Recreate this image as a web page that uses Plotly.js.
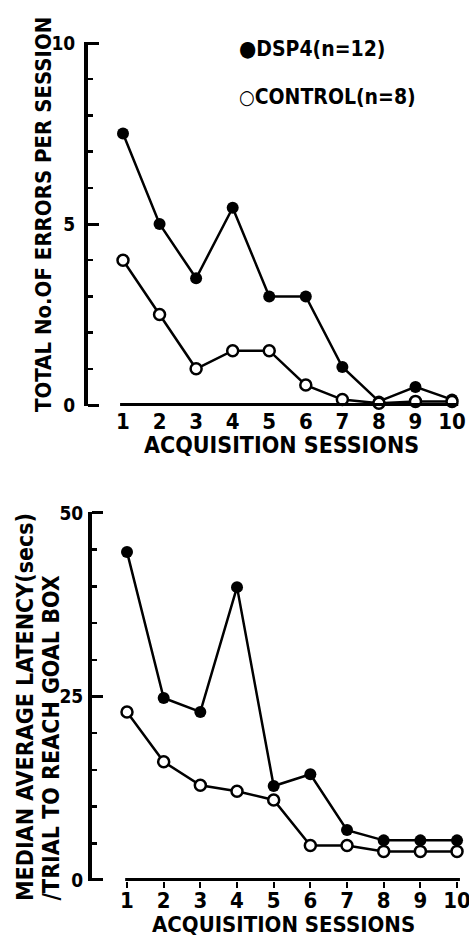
<!DOCTYPE html>
<html>
<head>
<meta charset="utf-8">
<script src="https://cdn.plot.ly/plotly-3.0.1.min.js"></script>
<style>html,body{margin:0;padding:0;background:#fff;}#chart{width:469px;height:939px;}</style>
</head>
<body>
<div id="chart"></div>
<script>
// ---- data ----
const sessions = [1, 2, 3, 4, 5, 6, 7, 8, 9, 10];
const sessionLabels = ['1', '2', '3', '4', '5', '6', '7', '8', '9', '10'];
const dsp4Errors = [7.5, 5.0, 3.5, 5.45, 3.0, 3.0, 1.05, 0.1, 0.5, 0.15];
const controlErrors = [4.0, 2.5, 1.0, 1.5, 1.5, 0.55, 0.15, 0.05, 0.1, 0.1];
const dsp4Latency = [44.7, 24.8, 22.9, 39.9, 12.8, 14.4, 6.8, 5.4, 5.4, 5.4];
const controlLatency = [22.9, 16.1, 12.9, 12.1, 10.9, 4.7, 4.7, 3.9, 3.9, 3.9];
const seriesNames = ['DSP4(n=12)', 'CONTROL(n=8)'];
const xTitle = 'ACQUISITION SESSIONS';
const yTitleTop = 'TOTAL No.OF ERRORS PER SESSION';
const yTitleBottom1 = 'MEDIAN AVERAGE LATENCY(secs)';
const yTitleBottom2 = '/TRIAL TO REACH GOAL BOX';

// ---- layout helpers (pixel -> paper) ----
const W = 469, H = 939;
const px = v => v / W;
const py = v => 1 - v / H;
const FONT = '"DejaVu Sans Condensed", "Liberation Sans Narrow", "DejaVu Sans", sans-serif';
const AXW = 4; // axis line width

// horizontal calibration: pixel of session 1, pixels per session, axis line pixel
function xCal(p1, unit, linePx, rEnd) {
  const left = linePx + AXW / 2;
  const r0 = 1 - (p1 - left) / unit;
  return {range: [r0, rEnd], domain: [px(left), px(p1 + (rEnd - 1) * unit)]};
}
// vertical calibration: pixel of zero, pixels per unit, max value, pad in units
function yCal(p0, unit, vmax, pad) {
  return {range: [-pad, vmax + pad], domain: [py(p0 + pad * unit), py(p0 - (vmax + pad) * unit)]};
}
const topX = xCal(123, 36.56, 86, 10.2);
const botX = xCal(127, 36.67, 90, 10.2);
const topY = yCal(405, 36.2, 10, 0.03);
const botY = yCal(880, 7.34, 50, 0.15);

const filled = {symbol: 'circle', color: 'black', size: 12, line: {width: 0}};
const open = {symbol: 'circle', color: 'white', size: 11, line: {color: 'black', width: 2.5}};
const lineStyle = {color: 'black', width: 2.5};

// control series sit on overlay axes (same scale) that carry the minor ticks
const traces = [
  {x: sessions, y: controlErrors, xaxis: 'x', yaxis: 'y3', mode: 'lines+markers', name: seriesNames[1],
   line: lineStyle, marker: open, cliponaxis: false},
  {x: sessions, y: dsp4Errors, xaxis: 'x', yaxis: 'y', mode: 'lines+markers', name: seriesNames[0],
   line: lineStyle, marker: filled, cliponaxis: false},
  {x: sessions, y: controlLatency, xaxis: 'x2', yaxis: 'y4', mode: 'lines+markers', name: seriesNames[1],
   line: lineStyle, marker: open, cliponaxis: false},
  {x: sessions, y: dsp4Latency, xaxis: 'x2', yaxis: 'y2', mode: 'lines+markers', name: seriesNames[0],
   line: lineStyle, marker: filled, cliponaxis: false}
];

const tickFont = {family: FONT, size: 22, color: 'black', weight: 700};
const yTickFont = {family: FONT, size: 19, color: 'black', weight: 700};
const titleFont = {family: FONT, size: 23, color: 'black', weight: 700};

const xCommon = {
  showline: false, showgrid: false, zeroline: false,
  tickmode: 'array', tickvals: sessions, ticktext: sessionLabels, tickfont: tickFont,
  ticks: 'outside', ticklen: 6, tickwidth: 2, tickcolor: 'black', ticklabeloverflow: 'allow'
};
const yCommon = {
  showline: true, linewidth: AXW, linecolor: 'black', showgrid: false, zeroline: false,
  ticks: 'inside', ticklen: 11, tickwidth: 3, tickcolor: 'black', tickfont: yTickFont,
  tickmode: 'linear', tick0: 0
};
const yMinor = {
  showline: false, showgrid: false, zeroline: false, showticklabels: false,
  ticks: 'inside', ticklen: 5, tickwidth: 2.5, tickcolor: 'black', tickmode: 'linear', tick0: 0
};

const layout = {
  width: W, height: H, margin: {l: 0, r: 0, t: 0, b: 0},
  paper_bgcolor: 'white', plot_bgcolor: 'rgba(0,0,0,0)', showlegend: false,
  font: {family: FONT, color: 'black'},
  xaxis: Object.assign({}, xCommon, topX, {anchor: 'y', ticks: ''}),
  yaxis: Object.assign({}, yCommon, topY, {anchor: 'x', dtick: 5, ticklabelstandoff: 5}),
  yaxis3: Object.assign({}, yMinor, {range: topY.range, overlaying: 'y', anchor: 'x', side: 'left', dtick: 1}),
  xaxis2: Object.assign({}, xCommon, botX, {anchor: 'y2', ticklabelstandoff: -7}),
  yaxis2: Object.assign({}, yCommon, botY, {anchor: 'x2', dtick: 25, ticklabelstandoff: 1}),
  yaxis4: Object.assign({}, yMinor, {range: botY.range, overlaying: 'y2', anchor: 'x2', side: 'left', dtick: 5}),
  shapes: [
    {type: 'line', xref: 'x', yref: 'y', x0: 0.92, x1: 10.17, y0: 0, y1: 0, layer: 'above', line: {color: 'black', width: 4}},
    {type: 'line', xref: 'x2', yref: 'y2', x0: 0.95, x1: 10.08, y0: 0, y1: 0, layer: 'above', line: {color: 'black', width: 4}}
  ],
  annotations: [
    {xref: 'paper', yref: 'paper', x: px(43), y: py(215), text: yTitleTop, textangle: -90,
     showarrow: false, xanchor: 'center', yanchor: 'middle', font: {family: FONT, size: 22, color: 'black', weight: 700}},
    {xref: 'paper', yref: 'paper', x: px(25), y: py(903), text: yTitleBottom1, textangle: -90,
     showarrow: false, xanchor: 'center', yanchor: 'bottom', font: titleFont},
    {xref: 'paper', yref: 'paper', x: px(50), y: py(903), text: yTitleBottom2, textangle: -90,
     showarrow: false, xanchor: 'center', yanchor: 'bottom', font: titleFont},
    {xref: 'paper', yref: 'paper', x: px(281), y: py(445), text: xTitle,
     showarrow: false, xanchor: 'center', yanchor: 'middle', font: titleFont},
    {xref: 'paper', yref: 'paper', x: px(283), y: 0, text: xTitle,
     showarrow: false, xanchor: 'center', yanchor: 'bottom', font: {family: FONT, size: 22, color: 'black', weight: 700}},
    {xref: 'paper', yref: 'paper', x: px(237), y: py(48), text: '<span style="font-size:22px">●</span>' + seriesNames[0],
     showarrow: false, xanchor: 'left', yanchor: 'middle', font: {family: FONT, size: 21, color: 'black', weight: 700}},
    {xref: 'paper', yref: 'paper', x: px(237), y: py(97), text: '<span style="font-size:20px">○</span>' + seriesNames[1],
     showarrow: false, xanchor: 'left', yanchor: 'middle', font: {family: FONT, size: 21, color: 'black', weight: 700}}
  ]
};

Plotly.newPlot('chart', traces, layout, {displayModeBar: false, staticPlot: true});
</script>
</body>
</html>
